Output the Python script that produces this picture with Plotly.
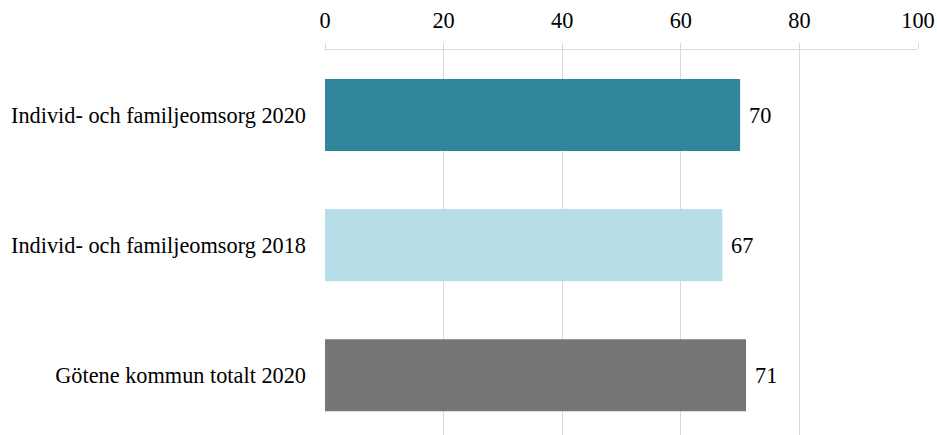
import plotly.graph_objects as go

categories = ["Individ- och familjeomsorg 2020", "Individ- och familjeomsorg 2018", "Götene kommun totalt 2020"]
values = [70, 67, 71]
colors = ["#31869B", "#B7DEE8", "#767676"]
x_ticks = [0, 20, 40, 60, 80, 100]

FONT = "Liberation Serif, Times New Roman, serif"
FS = 22.3

fig = go.Figure(go.Bar(
    x=values, y=categories, orientation="h",
    marker=dict(color=colors, line=dict(width=0)),
    width=0.554,
    cliponaxis=False,
))

for c, v in zip(categories, values):
    fig.add_annotation(x=v, y=c, text=str(v), showarrow=False,
                       xanchor="left", xshift=7,
                       font=dict(family=FONT, size=FS, color="black"))

fig.update_layout(
    width=937, height=435,
    margin=dict(l=325, r=19, t=50, b=0),
    plot_bgcolor="white", paper_bgcolor="white",
    font=dict(family=FONT, size=FS, color="black"),
    showlegend=False,
    xaxis=dict(side="top", range=[0, 100], tickvals=x_ticks,
               showgrid=True, gridcolor="#d9d9d9", gridwidth=1,
               showline=True, linecolor="#d9d9d9", linewidth=1,
               ticks="outside", ticklen=6, tickcolor="#d9d9d9",
               ticklabelstandoff=6,
               zeroline=False, tickfont=dict(size=FS), fixedrange=True,
               automargin=False),
    yaxis=dict(type="category", categoryorder="array", categoryarray=categories,
               range=[2.46, -0.5], showgrid=False, zeroline=False, showline=False,
               ticks="", ticklabelstandoff=18, tickfont=dict(size=FS),
               automargin=False),
)

fig.write_html("out.html", config={"displayModeBar": False},
               post_script="document.body.style.margin='0';document.body.style.padding='0';")
